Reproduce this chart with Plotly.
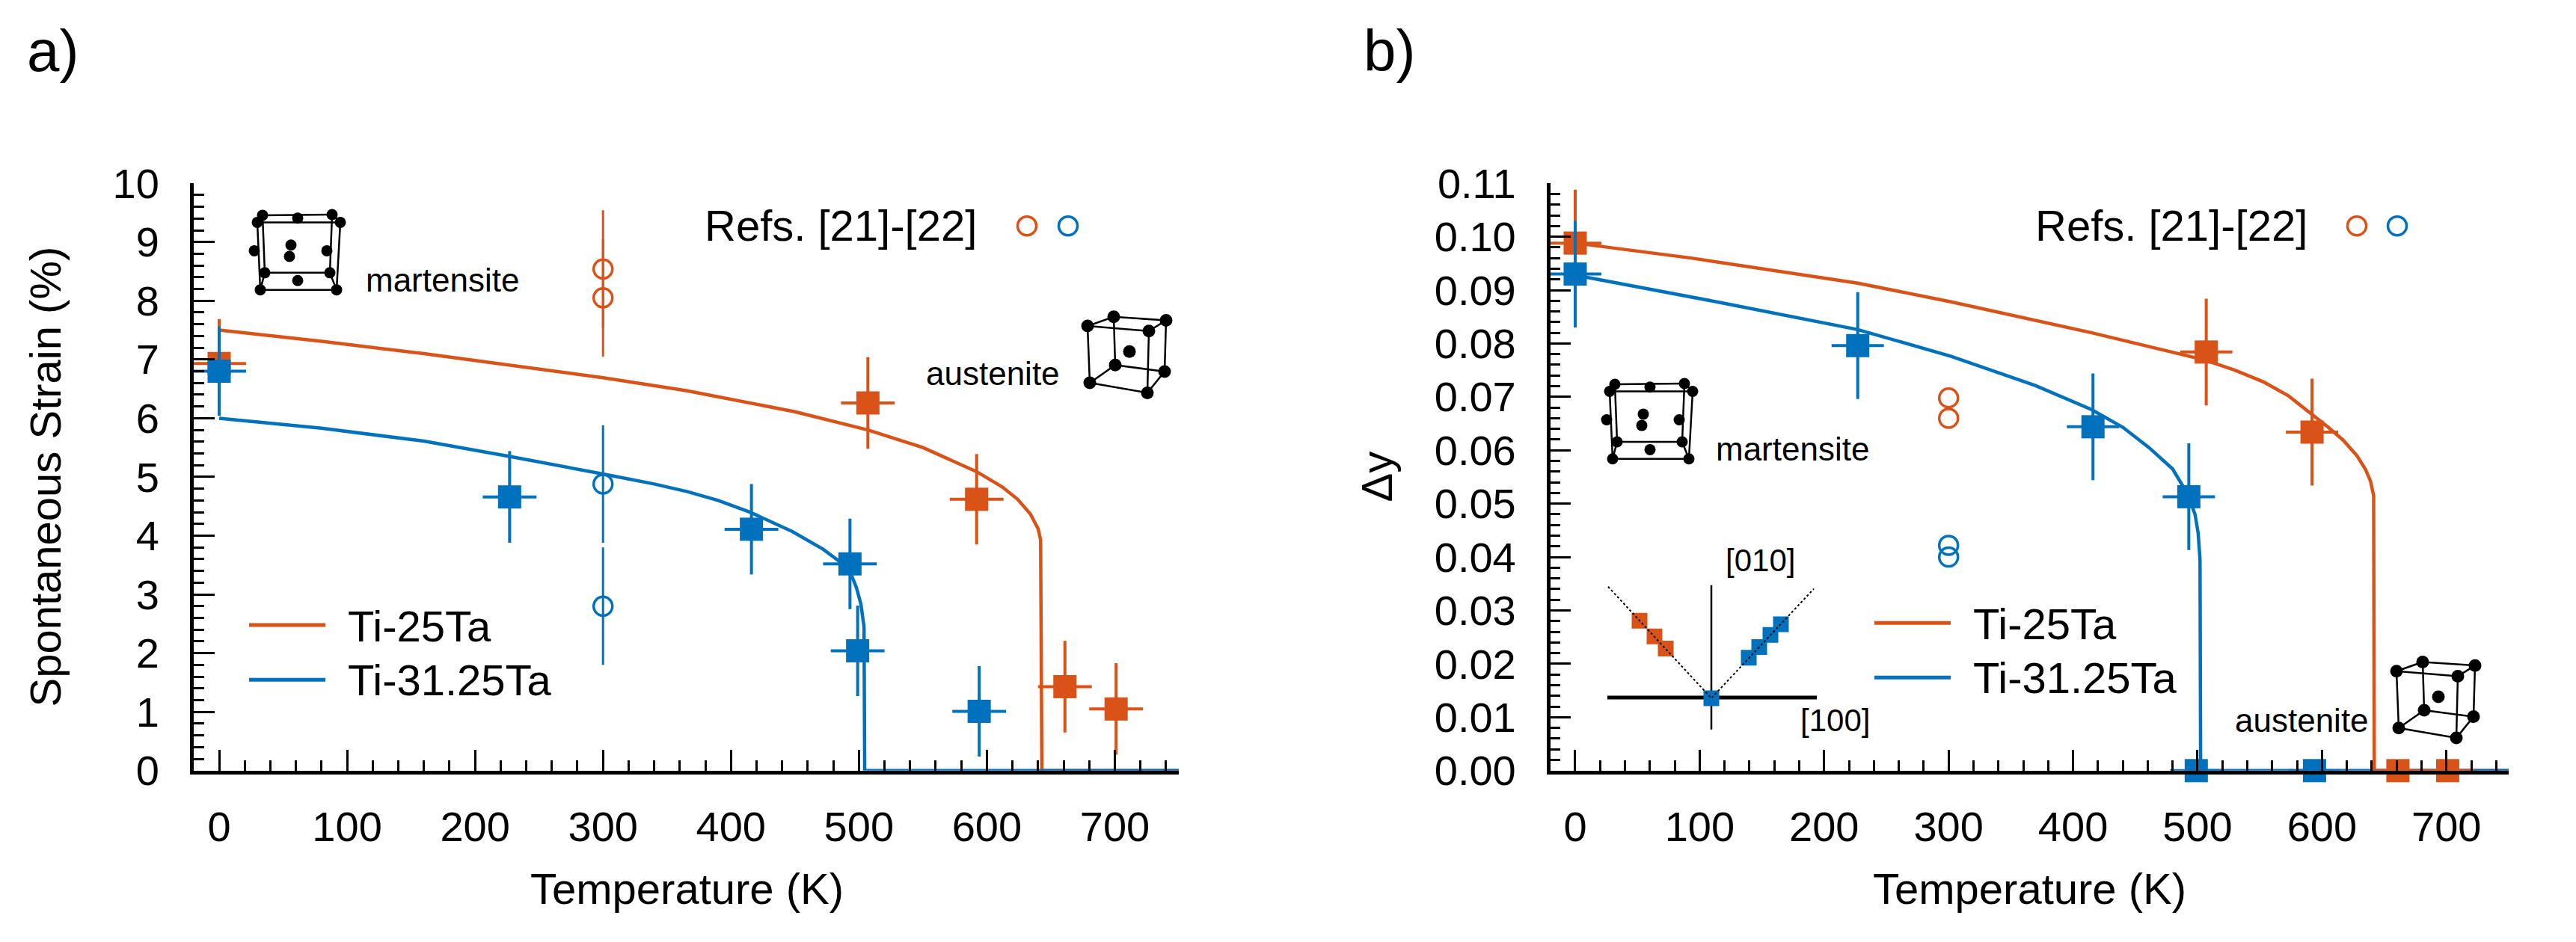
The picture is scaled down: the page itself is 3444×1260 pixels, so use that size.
import plotly.graph_objects as go

# canvas size and colours
W, H = 3444, 1260
ORANGE = "#D95319"
BLUE = "#0072BD"
FONT = "Liberation Sans, Arial, sans-serif"

# ---- data ----
# measured points (both panels share the temperatures)
temp_25 = [0, 507, 592, 661, 701]
temp_3125 = [0, 227, 416, 493, 499, 594]
temp_err_25 = [21, 21, 21, 21, 21]
temp_err_3125 = [21, 21, 21, 21, 21, 21]

# panel a: spontaneous strain (%)
strain_25 = [6.93, 6.26, 4.62, 1.43, 1.05]
strain_err_25 = [0.76, 0.78, 0.77, 0.78, 0.78]
strain_3125 = [6.80, 4.66, 4.11, 3.52, 2.04, 1.01]
strain_err_3125 = [0.76, 0.78, 0.77, 0.77, 0.77, 0.77]

# panel b: delta y
dy_25 = [0.0988, 0.0784, 0.0634, 0.0, 0.0]
dy_err_25 = [0.010, 0.010, 0.010, 0.0, 0.0]
dy_3125 = [0.0930, 0.0796, 0.0644, 0.0513, 0.0, 0.0]
dy_err_3125 = [0.010, 0.010, 0.010, 0.010, 0.0, 0.0]

# Refs. [21]-[22]
ref_temp = [300, 300]
ref_strain_25 = [8.54, 8.05]
ref_strain_3125 = [4.88, 2.80]
ref_strain_err = [1.0, 1.0]
ref_dy_25 = [0.0698, 0.0660]
ref_dy_3125 = [0.0422, 0.0400]

# model curves
fit_temp_a_25 = [0, 80, 160, 240, 300, 365, 450, 507, 550, 592, 612, 624, 634, 640, 642, 643, 750]
fit_strain_25 = [7.50, 7.31, 7.10, 6.87, 6.69, 6.47, 6.11, 5.80, 5.50, 5.09, 4.83, 4.62, 4.37, 4.12, 3.93, 0.0, 0.0]
fit_temp_a_3125 = [0, 80, 160, 227, 300, 340, 366, 390, 415, 448, 472, 485, 493, 498, 501.5, 503, 504,
                   504.5, 750]
fit_strain_3125 = [6.00, 5.83, 5.61, 5.35, 5.05, 4.88, 4.75, 4.60, 4.40, 4.07, 3.77, 3.56, 3.39, 3.12, 2.84,
                   2.62, 2.45, 0.0, 0.0]

fit_temp_b_25 = [0, 93, 227, 302, 415, 506, 530, 553, 573, 591, 605, 617, 628, 635, 639, 641.5, 642, 750]
fit_dy_25 = [0.0988, 0.0960, 0.0913, 0.0878, 0.0820, 0.0769, 0.0750, 0.0728, 0.0702, 0.0669, 0.0643,
             0.0619, 0.0590, 0.0564, 0.0542, 0.0515, 0.0, 0.0]
fit_temp_b_3125 = [0, 116, 227, 302, 370, 415, 440, 461, 480, 492, 498, 500.5, 501.5, 502, 502.5, 750]
fit_dy_3125 = [0.0928, 0.0877, 0.0826, 0.0776, 0.0721, 0.0676, 0.0643, 0.0605, 0.0565, 0.0518, 0.0480,
               0.0445, 0.0412, 0.0395, 0.0, 0.0]

# tick labels of panel b
dy_ticks = [0.00, 0.01, 0.02, 0.03, 0.04, 0.05, 0.06, 0.07, 0.08, 0.09, 0.10, 0.11]
dy_ticktext = ["0.00", "0.01", "0.02", "0.03", "0.04", "0.05", "0.06", "0.07", "0.08", "0.09", "0.10", "0.11"]

# inset sketch of panel b (inset units)
inset_orange_x = [54, 74, 89]
inset_orange_y = [167, 145, 128]
inset_blue_x = [150, 200, 214, 229, 243]
inset_blue_y = [58, 115, 130, 147, 162]
inset_v_x = [12, 150, 287]
inset_v_y = [215, 58, 212]


def px(x):
    return x / W


def py(y):
    return 1 - y / H


def axis_style(**kw):
    d = dict(showline=True, linewidth=4.5, linecolor="black", ticks="inside", ticklen=28, tickwidth=3,
             tickcolor="black", showgrid=False, zeroline=False, mirror=False,
             tickfont=dict(family=FONT, size=56, color="black"))
    d.update(kw)
    return d


def minor_ticks(dtick):
    return dict(ticks="inside", ticklen=14, tickwidth=3, tickcolor="black", tickmode="linear",
                tick0=0, dtick=dtick, showgrid=False)


fig = go.Figure()

# ---- panel a ----
fig.add_trace(go.Scatter(x=fit_temp_a_25, y=fit_strain_25, mode="lines", line=dict(color=ORANGE, width=4.5),
                         xaxis="x", yaxis="y"))
fig.add_trace(go.Scatter(x=fit_temp_a_3125, y=fit_strain_3125, mode="lines", line=dict(color=BLUE, width=4.5),
                         xaxis="x", yaxis="y"))
fig.add_trace(go.Scatter(x=ref_temp, y=ref_strain_25, mode="markers",
                         marker=dict(symbol="circle-open", size=25, color=ORANGE, line=dict(width=3.5)),
                         error_y=dict(type="data", array=ref_strain_err, width=0, thickness=3, color=ORANGE),
                         xaxis="x", yaxis="y"))
fig.add_trace(go.Scatter(x=ref_temp, y=ref_strain_3125, mode="markers",
                         marker=dict(symbol="circle-open", size=25, color=BLUE, line=dict(width=3.5)),
                         error_y=dict(type="data", array=ref_strain_err, width=0, thickness=3, color=BLUE),
                         xaxis="x", yaxis="y"))
fig.add_trace(go.Scatter(x=temp_25, y=strain_25, mode="markers", marker=dict(symbol="square", size=31, color=ORANGE),
                         error_x=dict(type="data", array=temp_err_25, width=0, thickness=4, color=ORANGE),
                         error_y=dict(type="data", array=strain_err_25, width=0, thickness=4, color=ORANGE),
                         xaxis="x", yaxis="y"))
fig.add_trace(go.Scatter(x=temp_3125, y=strain_3125, mode="markers", marker=dict(symbol="square", size=31, color=BLUE),
                         error_x=dict(type="data", array=temp_err_3125, width=0, thickness=4, color=BLUE),
                         error_y=dict(type="data", array=strain_err_3125, width=0, thickness=4, color=BLUE),
                         xaxis="x", yaxis="y"))

# ---- panel b ----
fig.add_trace(go.Scatter(x=fit_temp_b_25, y=fit_dy_25, mode="lines", line=dict(color=ORANGE, width=4.5),
                         xaxis="x2", yaxis="y2"))
fig.add_trace(go.Scatter(x=fit_temp_b_3125, y=fit_dy_3125, mode="lines", line=dict(color=BLUE, width=4.5),
                         xaxis="x2", yaxis="y2"))
fig.add_trace(go.Scatter(x=ref_temp, y=ref_dy_25, mode="markers",
                         marker=dict(symbol="circle-open", size=25, color=ORANGE, line=dict(width=3.5)),
                         xaxis="x2", yaxis="y2"))
fig.add_trace(go.Scatter(x=ref_temp, y=ref_dy_3125, mode="markers",
                         marker=dict(symbol="circle-open", size=25, color=BLUE, line=dict(width=3.5)),
                         xaxis="x2", yaxis="y2"))
fig.add_trace(go.Scatter(x=temp_25, y=dy_25, mode="markers", marker=dict(symbol="square", size=31, color=ORANGE),
                         error_x=dict(type="data", array=temp_err_25, width=0, thickness=4, color=ORANGE),
                         error_y=dict(type="data", array=dy_err_25, width=0, thickness=4, color=ORANGE),
                         cliponaxis=False, xaxis="x2", yaxis="y2"))
fig.add_trace(go.Scatter(x=temp_3125, y=dy_3125, mode="markers", marker=dict(symbol="square", size=31, color=BLUE),
                         error_x=dict(type="data", array=temp_err_3125, width=0, thickness=4, color=BLUE),
                         error_y=dict(type="data", array=dy_err_3125, width=0, thickness=4, color=BLUE),
                         cliponaxis=False, xaxis="x2", yaxis="y2"))

# ---- inset sketch in panel b ----
fig.add_trace(go.Scatter(x=[11, 291], y=[59, 59], mode="lines", line=dict(color="black", width=5),
                         xaxis="x3", yaxis="y3"))
fig.add_trace(go.Scatter(x=[150, 150], y=[14, 217], mode="lines", line=dict(color="black", width=2.5),
                         xaxis="x3", yaxis="y3"))
fig.add_trace(go.Scatter(x=inset_orange_x, y=inset_orange_y, mode="markers",
                         marker=dict(symbol="square", size=21, color=ORANGE), xaxis="x3", yaxis="y3"))
fig.add_trace(go.Scatter(x=inset_blue_x, y=inset_blue_y, mode="markers",
                         marker=dict(symbol="square", size=21, color=BLUE), xaxis="x3", yaxis="y3"))
fig.add_trace(go.Scatter(x=inset_v_x, y=inset_v_y, mode="lines", line=dict(color="black", width=2, dash="dot"),
                         xaxis="x3", yaxis="y3"))

ydom = [py(1044), py(217)]
fig.update_layout(
    width=W, height=H,
    margin=dict(l=0, r=0, t=0, b=0),
    paper_bgcolor="white", plot_bgcolor="white",
    showlegend=False,
    font=dict(family=FONT, color="black"),
    xaxis=axis_style(domain=[px(250.8), px(1568)], range=[-20, 750], anchor="y", tickmode="linear",
                     tick0=0, dtick=100, minor=minor_ticks(20), ticklabelstandoff=22),
    yaxis=axis_style(domain=ydom, range=[0, 10], anchor="x", tickmode="linear", tick0=0, dtick=1,
                     minor=minor_ticks(0.2), ticklabelstandoff=30),
    xaxis2=axis_style(domain=[px(2064.7), px(3346)], range=[-20, 750], anchor="y2", tickmode="linear",
                      tick0=0, dtick=100, minor=minor_ticks(20), ticklabelstandoff=22),
    yaxis2=axis_style(domain=ydom, range=[0, 0.11], anchor="x2", tickmode="array", tickvals=dy_ticks,
                      ticktext=dy_ticktext, minor=minor_ticks(0.002), ticklabelstandoff=30),
    xaxis3=dict(domain=[px(2130), px(2430)], range=[0, 300], anchor="y3", visible=False),
    yaxis3=dict(domain=[py(1000), py(770)], range=[0, 230], anchor="x3", visible=False),
)


def label(text, x, y, size, xanchor="left", angle=0):
    fig.add_annotation(text=text, x=px(x), y=py(y), xref="paper", yref="paper", showarrow=False,
                       xanchor=xanchor, yanchor="middle", textangle=angle,
                       font=dict(family=FONT, size=size, color="black"))


# panel letters and axis titles
label("a)", 26, 30, 78)
label("b)", 1813, 30, 78)
label("Spontaneous Strain (%)", 52, 630, 58, xanchor="center", angle=-90)
label("Δy", 1832, 630, 58, xanchor="center", angle=-90)
label("Temperature (K)", 910, 1210, 58, xanchor="center")
label("Temperature (K)", 2705, 1210, 58, xanchor="center")

# legends drawn by hand (long line samples as in the original)
for x_line, x_text, y25, y3125 in [(325, 455, 839, 916), (2498, 2628, 836, 913)]:
    fig.add_shape(type="line", xref="paper", yref="paper", x0=px(x_line), x1=px(x_line + 102),
                  y0=py(y25), y1=py(y25), line=dict(color=ORANGE, width=5))
    fig.add_shape(type="line", xref="paper", yref="paper", x0=px(x_line), x1=px(x_line + 102),
                  y0=py(y3125), y1=py(y3125), line=dict(color=BLUE, width=5))
    label("Ti-25Ta", x_text, y25 + 1, 58)
    label("Ti-31.25Ta", x_text, y3125, 58)

for x_text, x_c1, x_c2 in [(932, 1365, 1420), (2711, 3143, 3197)]:
    label("Refs. [21]-[22]", x_text, 276, 58)
    for xc, col in [(x_c1, ORANGE), (x_c2, BLUE)]:
        fig.add_shape(type="circle", xref="paper", yref="paper", xsizemode="pixel", ysizemode="pixel",
                      xanchor=px(xc), yanchor=py(277), x0=-12.5, x1=12.5, y0=-12.5, y1=12.5,
                      line=dict(color=col, width=3.5), fillcolor="rgba(0,0,0,0)")

label("martensite", 479, 353, 44)
label("martensite", 2284, 591, 44)
label("austenite", 1228, 485, 44)
label("austenite", 2978, 973, 44)
label("[010]", 2297, 748, 42)
label("[100]", 2397, 973, 42)

# crystal cell sketches (pixel positions of the panel a drawings)
mart_atoms = [(343, 262), (436, 261), (447, 272), (336, 272), (390, 266), (332, 312), (429, 312),
              (381, 304), (379, 320), (346, 343), (433, 343), (442, 367), (340, 367), (390, 354)]
mart_edges = [(0, 1), (1, 2), (2, 3), (3, 0), (9, 10), (10, 11), (11, 12), (12, 9),
              (3, 12), (2, 11), (0, 9), (1, 10)]
aust_atoms = [(1446, 418), (1481, 405), (1551, 410), (1528, 425), (1502, 454), (1483, 473),
              (1549, 482), (1449, 498), (1526, 512)]
aust_edges = [(0, 1), (1, 2), (2, 3), (3, 0), (7, 5), (5, 6), (6, 8), (8, 7),
              (0, 7), (1, 5), (2, 6), (3, 8)]


def add_cell(atoms, edges, dx, dy, r):
    for i, j in edges:
        (x0, y0), (x1, y1) = atoms[i], atoms[j]
        fig.add_shape(type="line", xref="paper", yref="paper", x0=px(x0 + dx), y0=py(y0 + dy),
                      x1=px(x1 + dx), y1=py(y1 + dy), line=dict(color="black", width=2.5))
    for x, y in atoms:
        fig.add_shape(type="circle", xref="paper", yref="paper", xsizemode="pixel", ysizemode="pixel",
                      xanchor=px(x + dx), yanchor=py(y + dy), x0=-r, x1=r, y0=-r, y1=r,
                      fillcolor="black", line=dict(width=0))


add_cell(mart_atoms, mart_edges, 0, 0, 7.5)
add_cell(mart_atoms, mart_edges, 1808, 238, 7.5)
add_cell(aust_atoms, aust_edges, 0, 0, 8.5)
add_cell(aust_atoms, aust_edges, 1750, 486, 8.5)

fig.write_html("out.html")
